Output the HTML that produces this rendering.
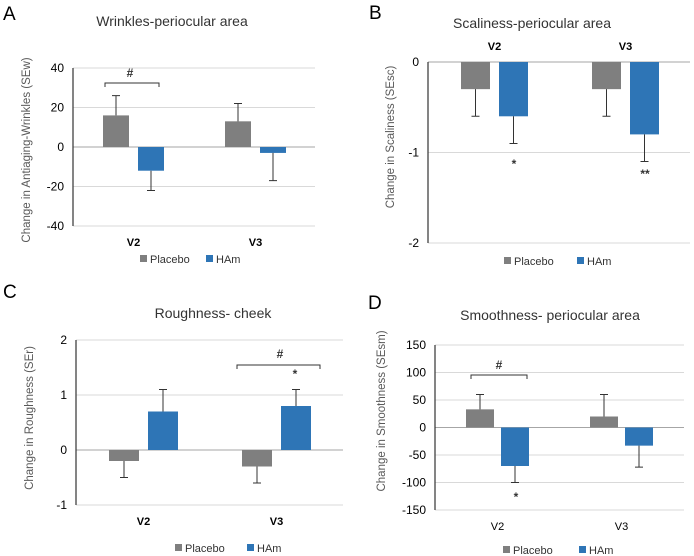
<!DOCTYPE html>
<html><head><meta charset="utf-8"><style>
html,body{margin:0;padding:0;background:#fff;}
svg{display:block;font-family:"Liberation Sans",sans-serif;}
</style></head><body>
<svg id="chart" width="694" height="556" viewBox="0 0 694 556" xmlns="http://www.w3.org/2000/svg"></svg>
<script>
const categories = ["V2","V3"];
const seriesNames = ["Placebo","HAm"];
// Panel A
const aPlacebo = [16, 13];
const aPlaceboErr = [26, 22];
const aHAm = [-12, -3];
const aHAmErr = [-22, -17];
const aTicks = [40, 20, 0, -20, -40];
// Panel B
const bPlacebo = [-0.3, -0.3];
const bPlaceboErr = [-0.6, -0.6];
const bHAm = [-0.6, -0.8];
const bHAmErr = [-0.9, -1.1];
const bTicks = [0, -1, -2];
// Panel C
const cPlacebo = [-0.2, -0.3];
const cPlaceboErr = [-0.5, -0.6];
const cHAm = [0.7, 0.8];
const cHAmErr = [1.1, 1.1];
const cTicks = [2, 1, 0, -1];
// Panel D
const dPlacebo = [33, 20];
const dPlaceboErr = [60, 60];
const dHAm = [-70, -33];
const dHAmErr = [-100, -72];
const dTicks = [150, 100, 50, 0, -50, -100, -150];

const NS = "http://www.w3.org/2000/svg";
const svg = document.getElementById("chart");
const GRAY = "#7f7f7f", BLUE = "#2e75b6";
function mk(tag, attrs, parent, text) {
  const e = document.createElementNS(NS, tag);
  for (const k in attrs) e.setAttribute(k, attrs[k]);
  if (text !== undefined) e.textContent = text;
  (parent || svg).appendChild(e);
  return e;
}

function panel(cfg) {
  const g = mk("g", {});
  
  
  const max = cfg.ticks[0], min = cfg.ticks[cfg.ticks.length - 1];
  const y = v => cfg.top + (max - v) / (max - min) * (cfg.bottom - cfg.top);
  const L = mk("text", {x: cfg.letterX, y: cfg.letterY, "font-size": 19, fill: "#000"}, g, cfg.letter);
  
  
  const T = mk("text", {x: cfg.titleX, y: cfg.titleY, "font-size": 14, fill: "#333", "text-anchor": "middle"}, g, cfg.title);
  
  
  cfg.ticks.forEach(t => {
    const ln = mk("line", {x1: cfg.axisX, x2: cfg.right, y1: y(t), y2: y(t), stroke: t === 0 ? "#a6a6a6" : "#d9d9d9", "stroke-width": 1}, g);
    
    
    const tl = mk("text", {x: cfg.axisX - 9, y: y(t) + 4, "font-size": 12, fill: "#000", "text-anchor": "end"}, g, String(t));
    
    
  });
  const ax = mk("line", {x1: cfg.axisX, x2: cfg.axisX, y1: cfg.top, y2: cfg.bottom, stroke: "#333", "stroke-width": 1.2}, g);
  
  
  const yt = mk("text", {x: 0, y: 0, "font-size": 11.5, fill: "#595959", "text-anchor": "middle", transform: `translate(${cfg.ytX},${cfg.ytY}) rotate(-90)`}, g, cfg.yTitle);
  
  
  const series = [[cfg.p, cfg.pe, GRAY, 'placebo'], [cfg.h, cfg.he, BLUE, 'ham']];
  categories.forEach((c, i) => {
    series.forEach((s, j) => {
      const x0 = cfg.barX[i] + j * (cfg.barW + cfg.gap);
      const v = s[0][i];
      const r = mk("rect", {x: x0, y: Math.min(y(v), y(0)), width: cfg.barW, height: Math.abs(y(v) - y(0)), fill: s[2]}, g);
      
      
      const cx = x0 + cfg.barW / 2, ev = s[1][i];
      const el = mk("path", {d: `M${cx},${y(v)}V${y(ev)}M${cx - 4},${y(ev)}H${cx + 4}`, stroke: "#333", "stroke-width": 1, fill: "none"}, g);
      
      
    });
    const cl = mk("text", {x: cfg.barX[i] + cfg.barW + cfg.gap / 2, y: cfg.catY, "font-size": 11, "font-weight": cfg.catBold ? "bold" : "normal", fill: "#000", "text-anchor": "middle"}, g, c);
    
    
  });
  seriesNames.forEach((n, j) => {
    const lx = cfg.legX[j];
    const sq = mk("rect", {x: lx, y: cfg.legY - 8, width: 7, height: 7, fill: j ? BLUE : GRAY}, g);
    
    
    const lt = mk("text", {x: lx + 10, y: cfg.legY, "font-size": 11, fill: "#333"}, g, n);
    
    
  });
  (cfg.brackets || []).forEach(b => {
    const br = mk("path", {d: `M${b[0]},${b[2] + 4}V${b[2]}H${b[1]}V${b[2] + 4}`, stroke: "#333", "stroke-width": 1, fill: "none"}, g);
    
    
  });
  (cfg.marks || []).forEach(m => {
    const t = mk("text", {x: m[0], y: m[1], "font-size": 12, "font-weight": "bold", fill: "#333", "text-anchor": "middle"}, g, m[2]);
    
    
  });
}

panel({name: "panel-a", letter: "A", letterX: 3, letterY: 20, title: "Wrinkles-periocular area", titleX: 172, titleY: 26,
  ticks: aTicks, top: 68, bottom: 226, axisX: 73, right: 315, yTitle: "Change in Antiaging-Wrinkles (SEw)", ytX: 30, ytY: 150,
  p: aPlacebo, pe: aPlaceboErr, h: aHAm, he: aHAmErr, barX: [103, 225], barW: 26, gap: 9, catY: 246, catBold: true,
  legX: [140, 206], legY: 263, brackets: [[105, 159, 83]], marks: [[130, 77, "#"]]});

panel({name: "panel-b", letter: "B", letterX: 369, letterY: 19, title: "Scaliness-periocular area", titleX: 532, titleY: 28,
  ticks: bTicks, top: 62, bottom: 243, axisX: 428, right: 690, yTitle: "Change in Scaliness (SEsc)", ytX: 394, ytY: 137,
  p: bPlacebo, pe: bPlaceboErr, h: bHAm, he: bHAmErr, barX: [461, 592], barW: 29, gap: 9, catY: 50, catBold: true,
  legX: [504, 577], legY: 265, marks: [[514, 168, "*"], [645, 178, "**"]]});

panel({name: "panel-c", letter: "C", letterX: 3, letterY: 298, title: "Roughness- cheek", titleX: 213, titleY: 318,
  ticks: cTicks, top: 340, bottom: 505, axisX: 76, right: 343, yTitle: "Change in Roughness (SEr)", ytX: 33, ytY: 418,
  p: cPlacebo, pe: cPlaceboErr, h: cHAm, he: cHAmErr, barX: [109, 242], barW: 30, gap: 9, catY: 525, catBold: true,
  legX: [175, 247], legY: 552, brackets: [[237, 320, 365]], marks: [[280, 358, "#"], [295, 378, "*"]]});

panel({name: "panel-d", letter: "D", letterX: 368, letterY: 309, title: "Smoothness- periocular area", titleX: 550, titleY: 320,
  ticks: dTicks, top: 345, bottom: 510, axisX: 435, right: 684, yTitle: "Change in Smoothness (SEsm)", ytX: 385, ytY: 411,
  p: dPlacebo, pe: dPlaceboErr, h: dHAm, he: dHAmErr, barX: [466, 590], barW: 28, gap: 7, catY: 530, catBold: false,
  legX: [503, 579], legY: 554, brackets: [[471, 527, 375]], marks: [[499, 369, "#"], [516, 501, "*"]]});
</script>
</body></html>
